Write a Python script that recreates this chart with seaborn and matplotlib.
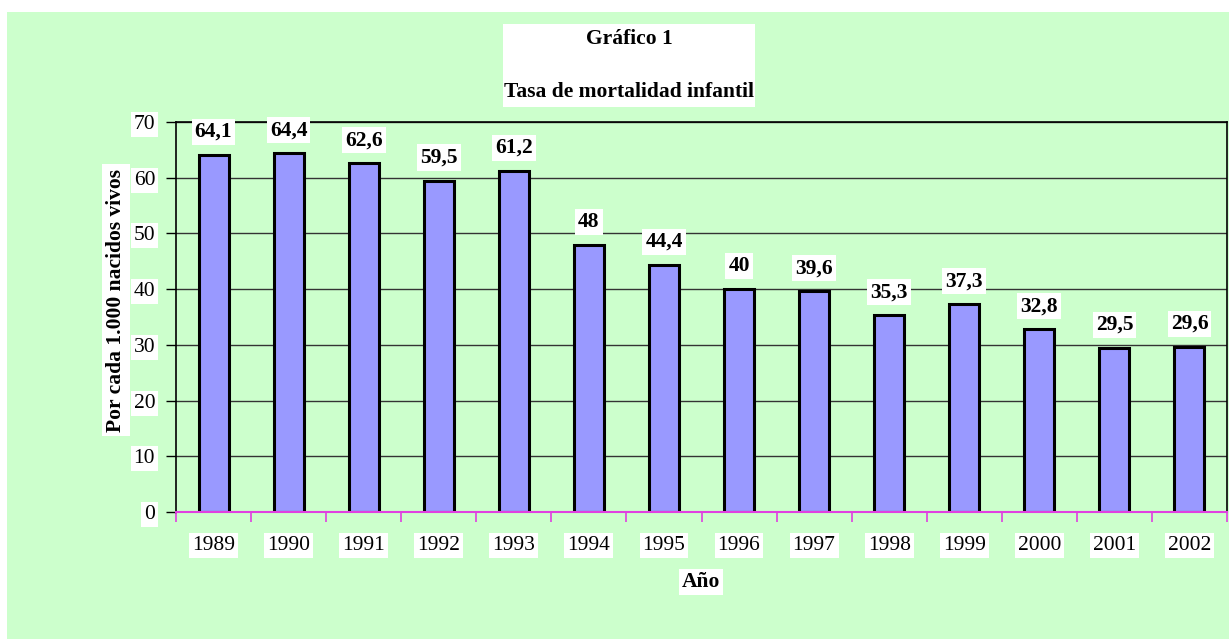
import matplotlib
matplotlib.use("Agg")
import matplotlib.pyplot as plt
import matplotlib.patches as mpatches
import seaborn as sns
import pandas as pd
import numpy as np

years = ["1989", "1990", "1991", "1992", "1993", "1994", "1995",
         "1996", "1997", "1998", "1999", "2000", "2001", "2002"]
rates = [64.1, 64.4, 62.6, 59.5, 61.2, 48, 44.4, 40, 39.6, 35.3, 37.3, 32.8, 29.5, 29.6]
value_labels = ["64,1", "64,4", "62,6", "59,5", "61,2", "48", "44,4",
                "40", "39,6", "35,3", "37,3", "32,8", "29,5", "29,6"]
title_line1 = "Gráfico 1"
title_line2 = "Tasa de mortalidad infantil"
x_title = "Año"
y_title = "Por cada 1.000 nacidos vivos"

sns.set_theme(style="white")
plt.rcParams["font.family"] = ["Liberation Serif", "DejaVu Serif"]
plt.rcParams["text.color"] = "black"
plt.rcParams["xtick.color"] = "black"
plt.rcParams["ytick.color"] = "black"

W, H = 1229, 639
fig = plt.figure(figsize=(W / 100, H / 100), dpi=100)
fig.patch.set_facecolor("white")
bg = mpatches.Rectangle((7 / W, 0), 1 - 7 / W, 1 - 12 / H, transform=fig.transFigure,
                        facecolor="#CCFFCC", edgecolor="none", zorder=-10)
fig.patches.append(bg)
title_box = mpatches.Rectangle((503 / W, 1 - 107 / H), (755 - 503) / W, (107 - 24) / H,
                               transform=fig.transFigure, facecolor="white",
                               edgecolor="none", zorder=-5)
fig.patches.append(title_box)

ax = fig.add_axes([176 / W, 1 - 512 / H, (1227 - 176) / W, (512 - 122) / H])
ax.set_facecolor("none")

df = pd.DataFrame({"year": years, "rate": rates})
sns.barplot(data=df, x="year", y="rate", order=years, color="#9999FF",
            saturation=1, edgecolor="black", linewidth=2.2, width=0.4, ax=ax, zorder=3)

ax.set_xlim(-0.5, len(years) - 0.5)
ax.set_ylim(0, 70)
ax.set_yticks(np.arange(0, 71, 10))
ax.yaxis.grid(True, color="#333333", linewidth=1)
ax.set_axisbelow(True)
ax.set_xlabel("")
ax.set_ylabel("")

for s in ["top", "right", "left"]:
    ax.spines[s].set_visible(True)
    ax.spines[s].set_color("black")
    ax.spines[s].set_linewidth(1.2)
ax.spines["bottom"].set_visible(True)
ax.spines["bottom"].set_color("#E040E0")
ax.spines["bottom"].set_linewidth(1.5)
ax.spines["bottom"].set_zorder(5)

ax.tick_params(axis="y", which="major", direction="out", length=7, width=1,
               color="black", labelsize=15.5, pad=8, left=True, labelcolor="black")
ax.set_xticks(np.arange(len(years)))
ax.set_xticks(np.arange(-0.5, len(years), 1), minor=True)
ax.tick_params(axis="x", which="major", length=0, labelsize=15.5, pad=17, labelcolor="black")
ax.tick_params(axis="x", which="minor", direction="out", length=7, width=1.2,
               color="#E040E0", bottom=True)

box = dict(facecolor="white", edgecolor="none", pad=2.2)
for lab in ax.get_xticklabels() + ax.get_yticklabels():
    lab.set_bbox(box)

for i, (v, t) in enumerate(zip(rates, value_labels)):
    ax.annotate(t, xy=(i, v), xytext=(0, 23), textcoords="offset pixels",
                ha="center", va="center", fontsize=15.5, fontweight="bold",
                color="black", bbox=box, zorder=6)

fig.text(629 / W, 1 - 39 / H, title_line1, ha="center", va="center",
         fontsize=15.5, fontweight="bold", color="black")
fig.text(629 / W, 1 - 92 / H, title_line2, ha="center", va="center",
         fontsize=15.5, fontweight="bold", color="black")

fig.text(701 / W, 1 - 582 / H, x_title, ha="center", va="center",
         fontsize=15.5, fontweight="bold", color="black", bbox=box)
fig.text(116 / W, 1 - 300 / H, y_title, ha="center", va="center", rotation=90,
         fontsize=15.5, fontweight="bold", color="black",
         bbox=dict(facecolor="white", edgecolor="none", pad=3))

fig.savefig("out.png", dpi=100, facecolor=fig.get_facecolor())
